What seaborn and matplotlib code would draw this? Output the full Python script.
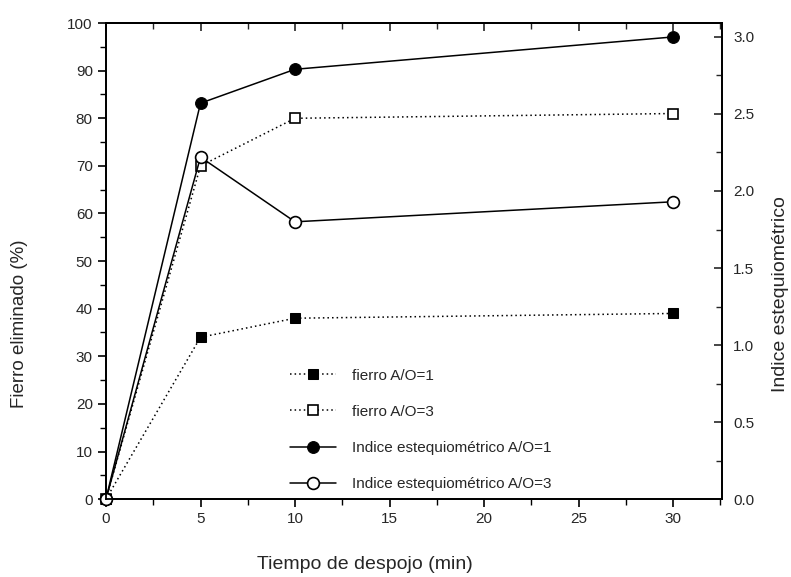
import matplotlib
matplotlib.use("Agg")
import matplotlib.pyplot as plt
import seaborn as sns
from matplotlib.ticker import MultipleLocator

sns.set_style("ticks")
plt.rcParams['font.family'] = ['Liberation Sans', 'DejaVu Sans']

tiempo = [0, 5, 10, 30]
fierro_ao1 = [0, 34, 38, 39]
fierro_ao3 = [0, 70, 80, 81]
indice_ao1 = [0, 2.57, 2.79, 3.0]
indice_ao3 = [0, 2.22, 1.80, 1.93]

labels = ["fierro A/O=1", "fierro A/O=3",
          "Indice estequiométrico A/O=1", "Indice estequiométrico A/O=3"]

fig = plt.figure(figsize=(7.91, 5.77), dpi=100)
ax = fig.add_axes([0.134, 0.135, 0.779, 0.825])
ax2 = ax.twinx()

ms = 7.5
common = dict(color="black", clip_on=False, legend=False)
sns.lineplot(x=tiempo, y=fierro_ao1, ax=ax, linestyle=(0, (1, 2)),
             marker="s", markersize=ms, markerfacecolor="black", markeredgecolor="black",
             linewidth=1.1, label=labels[0], **common)
sns.lineplot(x=tiempo, y=fierro_ao3, ax=ax, linestyle=(0, (1, 2)),
             marker="s", markersize=ms, markerfacecolor="white", markeredgecolor="black",
             markeredgewidth=1.2, linewidth=1.1, label=labels[1], **common)
sns.lineplot(x=tiempo, y=indice_ao1, ax=ax2, linestyle="-",
             marker="o", markersize=ms + 1, markerfacecolor="black", markeredgecolor="black",
             linewidth=1.1, label=labels[2], **common)
sns.lineplot(x=tiempo, y=indice_ao3, ax=ax2, linestyle="-",
             marker="o", markersize=ms + 1, markerfacecolor="white", markeredgecolor="black",
             markeredgewidth=1.2, linewidth=1.1, label=labels[3], **common)

ax.set_xlim(0, 32.6)
ax.set_ylim(0, 100)
ax2.set_ylim(0, 3.09)

ax.xaxis.set_major_locator(MultipleLocator(5))
ax.xaxis.set_minor_locator(MultipleLocator(2.5))
ax.yaxis.set_major_locator(MultipleLocator(10))
ax.yaxis.set_minor_locator(MultipleLocator(5))
ax2.yaxis.set_major_locator(MultipleLocator(0.5))
ax2.yaxis.set_minor_locator(MultipleLocator(0.25))

ax.tick_params(axis="both", which="major", length=6, width=1.2, labelsize=11,
               color="black", direction="out")
ax.tick_params(axis="both", which="minor", length=4, width=1.0, color="black",
               direction="out")
ax2.tick_params(axis="y", which="major", length=6, width=1.2, labelsize=11,
                direction="in", pad=8)
ax2.tick_params(axis="y", which="minor", length=4, width=1.0, direction="in")

# top ticks pointing inward
top = ax.secondary_xaxis("top")
top.xaxis.set_major_locator(MultipleLocator(5))
top.xaxis.set_minor_locator(MultipleLocator(2.5))
top.tick_params(which="major", direction="in", length=6, width=1.2, labeltop=False)
top.tick_params(which="minor", direction="in", length=4, width=1.0)
top.spines["top"].set_linewidth(1.3)

for a in (ax, ax2):
    for s in a.spines.values():
        s.set_visible(True)
        s.set_linewidth(1.3)
        s.set_color("black")

ax.set_xlabel("Tiempo de despojo (min)", fontsize=14)
ax.xaxis.set_label_coords(0.42, -0.12)
ax.set_ylabel("Fierro eliminado (%)", fontsize=13.5)
ax.yaxis.set_label_coords(-0.127, 0.368)
ax2.set_ylabel("Indice estequiométrico", fontsize=14)
ax2.yaxis.set_label_coords(1.081, 0.43)

h1, l1 = ax.get_legend_handles_labels()
h2, l2 = ax2.get_legend_handles_labels()
ax2.legend(h1 + h2, l1 + l2, loc="lower left", bbox_to_anchor=(0.276, -0.012),
           frameon=False, fontsize=11, labelspacing=1.45, handlelength=3.0,
           handletextpad=1.1)

fig.savefig("out.png", dpi=100)
